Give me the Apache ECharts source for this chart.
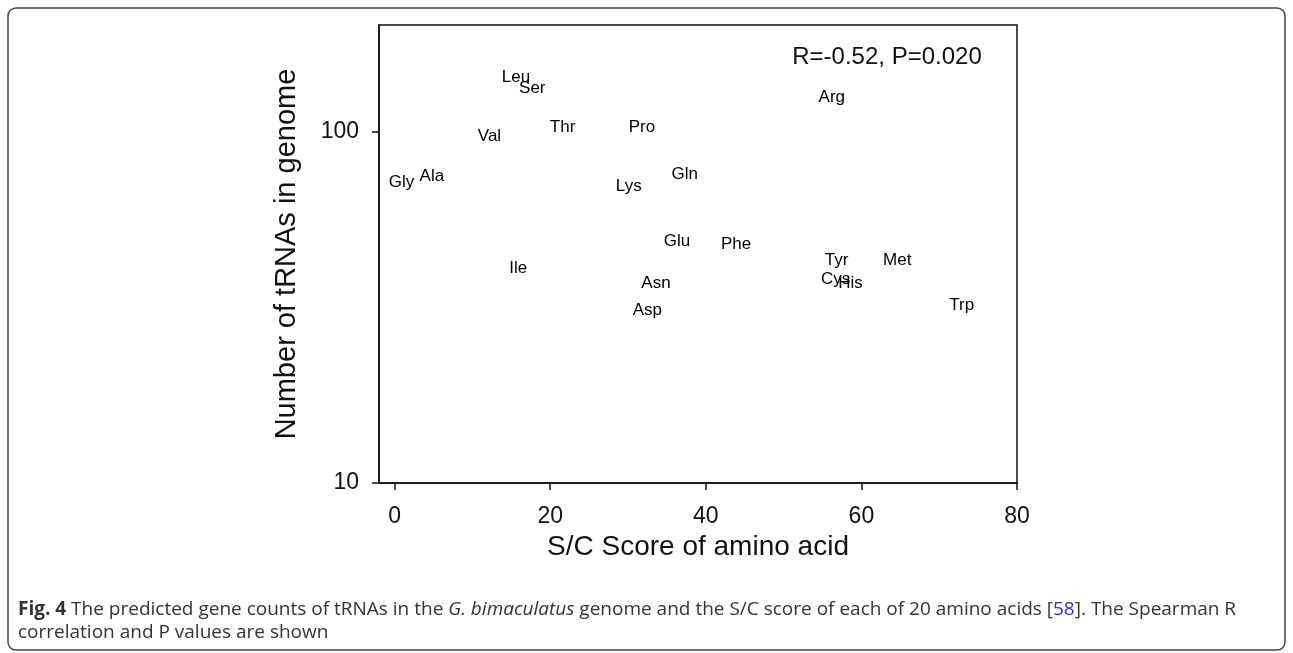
<!DOCTYPE html>
<html>
<head>
<meta charset="utf-8">
<script src="https://cdn.jsdelivr.net/npm/echarts@6/dist/echarts.min.js"></script>
<style>
html,body{margin:0;padding:0;background:#fff;}
#chart{width:1293px;height:653px;}
</style>
</head>
<body>
<div id="chart"></div>
<script>
const aminoAcids = ['Gly','Ala','Val','Leu','Ser','Thr','Pro','Lys','Gln','Glu','Phe','Ile','Asn','Asp','Arg','Tyr','Cys','His','Met','Trp'];
const scScores   = [0.9, 4.8, 12.2, 15.6, 17.7, 21.6, 31.8, 30.1, 37.3, 36.3, 43.9, 15.9, 33.6, 32.5, 56.2, 56.8, 56.7, 58.6, 64.6, 72.9];
const trnaCounts = [72, 75, 97, 143, 133, 103, 103, 70, 76, 49, 48, 41, 37, 31, 126, 43, 38, 37, 43, 32];
const xTicks = [0, 20, 40, 60, 80];
const yTicks = [10, 100];
const statText = 'R=-0.52, P=0.020';

const points = aminoAcids.map((n, i) => ({name: n, value: [scScores[i], trnaCounts[i]]}));
const FONT = '"Liberation Sans", Arial, sans-serif';

const chart = echarts.init(document.getElementById('chart'), null, {renderer: 'canvas'});
chart.setOption({
  animation: false,
  backgroundColor: '#fff',
  grid: {
    left: 379, right: 276, top: 25, bottom: 170,
    show: true, borderColor: '#111', borderWidth: 1.5, backgroundColor: 'transparent'
  },
  xAxis: {
    type: 'value', min: -2, max: 80,
    axisLine: {show: true, onZero: false, lineStyle: {color: '#111', width: 1.5}},
    axisTick: {show: true, inside: false, length: 7, customValues: xTicks, lineStyle: {color: '#111', width: 1.5}},
    axisLabel: {customValues: xTicks, margin: 22, fontSize: 23, color: '#111', fontFamily: FONT},
    splitLine: {show: false},
    name: 'S/C Score of amino acid', nameLocation: 'middle', nameGap: 50,
    nameTextStyle: {fontSize: 28, color: '#111', fontFamily: FONT}
  },
  yAxis: {
    type: 'log', logBase: 10, min: 10, max: 202,
    axisLine: {show: true, onZero: false, lineStyle: {color: '#111', width: 1.5}},
    axisTick: {show: true, inside: false, length: 7, customValues: yTicks, lineStyle: {color: '#111', width: 1.5}},
    axisLabel: {customValues: yTicks, margin: 20, fontSize: 23, color: '#111', fontFamily: FONT},
    minorTick: {show: false},
    splitLine: {show: false},
    name: 'Number of tRNAs in genome', nameLocation: 'middle', nameGap: 78, nameRotate: 90,
    nameTextStyle: {fontSize: 29, color: '#111', fontFamily: FONT}
  },
  series: [{
    type: 'scatter',
    data: points,
    symbolSize: 1,
    itemStyle: {color: 'rgba(0,0,0,0)'},
    label: {
      show: true, position: 'inside', formatter: p => p.name,
      fontSize: 17, color: '#000', opacity: 1, textBorderWidth: 0, fontFamily: FONT
    },
    labelLayout: {hideOverlap: false},
    silent: true
  }],
  graphic: [
    {type: 'rect', shape: {x: 8, y: 8, width: 1277, height: 642, r: 8}, style: {fill: 'none', stroke: '#444', lineWidth: 1.5}, silent: true},
    {type: 'text', x: 887, y: 57, style: {text: statText, font: '24px ' + FONT, fill: '#111', textAlign: 'center', textVerticalAlign: 'middle'}},
    {type: 'text', x: 18, y: 598, style: {
      text: '{b|Fig. 4} The predicted gene counts of tRNAs in the {i|G. bimaculatus} genome and the S/C score of each of 20 amino acids [{l|58}]. The Spearman R\ncorrelation and P values are shown',
      font: '19px "Open Sans", sans-serif', fill: '#333', lineHeight: 23,
      rich: {
        b: {fontWeight: 'bold', fontFamily: '"Open Sans", sans-serif', fontSize: 19, fill: '#333'},
        i: {fontStyle: 'italic', fontFamily: '"Open Sans", sans-serif', fontSize: 19, fill: '#333'},
        l: {fontFamily: '"Open Sans", sans-serif', fontSize: 19, fill: '#2a2ae0'}
      }
    }}
  ]
});
</script>
</body>
</html>
